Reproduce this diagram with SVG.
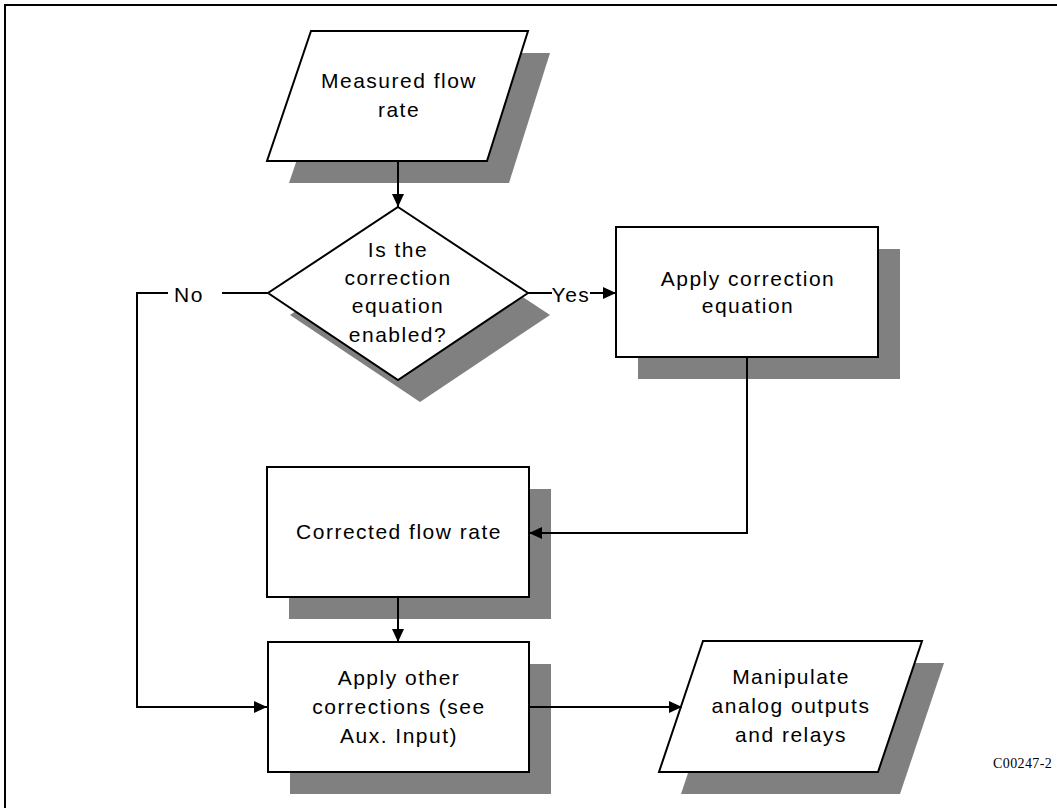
<svg xmlns="http://www.w3.org/2000/svg" width="1057" height="808" viewBox="0 0 1057 808">
  <style>
    .shadow { fill: #808080; stroke: none; }
    .shape { fill: #ffffff; stroke: #000000; stroke-width: 2; }
    .lbl { font-family: "Liberation Sans", Arial, sans-serif; font-size: 21px; letter-spacing: 1.5px; fill: #000000; text-anchor: middle; }
    .conn { fill: none; stroke: #000000; stroke-width: 2; }
    .code { font-family: "Liberation Serif", "Times New Roman", serif; font-size: 14px; letter-spacing: 0.4px; fill: #000000; }
  </style>
  <defs>
    <marker id="arrow" viewBox="0 0 13 12" refX="13" refY="6" markerWidth="13" markerHeight="12" markerUnits="userSpaceOnUse" orient="auto">
      <path d="M0,0 L13,6 L0,12 Z" fill="#000000"/>
    </marker>
  </defs>
  <rect width="1057" height="808" fill="#ffffff"/>
  <!-- frame -->
  <path d="M5,808 L5,5 L1057,5" fill="none" stroke="#000000" stroke-width="2"/>

  <g id="measured-flow-rate">
    <polygon class="shadow" points="333,53 550,53 509,183 289,183"/>
    <polygon class="shape" points="311,31 528,31 487,161 267,161"/>
    <text class="lbl" x="399" y="88">Measured flow</text>
    <text class="lbl" x="399" y="117">rate</text>
  </g>

  <g id="decision">
    <polygon class="shadow" points="420,229 550,315 420,402 290,315"/>
    <polygon class="shape" points="398,207 528,293 398,380 268,293"/>
    <text class="lbl" x="398" y="257">Is the</text>
    <text class="lbl" x="398" y="285">correction</text>
    <text class="lbl" x="398" y="313">equation</text>
    <text class="lbl" x="398" y="342">enabled?</text>
  </g>

  <g id="apply-correction">
    <rect class="shadow" x="638" y="249" width="262" height="130"/>
    <rect class="shape" x="616" y="227" width="262" height="130"/>
    <text class="lbl" x="748" y="286">Apply correction</text>
    <text class="lbl" x="748" y="313">equation</text>
  </g>

  <g id="corrected-flow-rate">
    <rect class="shadow" x="289" y="489" width="262" height="130"/>
    <rect class="shape" x="267" y="467" width="262" height="130"/>
    <text class="lbl" x="399" y="539">Corrected flow rate</text>
  </g>

  <g id="apply-other">
    <rect class="shadow" x="290" y="664" width="261" height="130"/>
    <rect class="shape" x="268" y="642" width="261" height="130"/>
    <text class="lbl" x="399" y="685">Apply other</text>
    <text class="lbl" x="399" y="714">corrections (see</text>
    <text class="lbl" x="399" y="743">Aux. Input)</text>
  </g>

  <g id="manipulate-outputs">
    <polygon class="shadow" points="725,663 944,663 900,794 681,794"/>
    <polygon class="shape" points="703,641 922,641 878,772 659,772"/>
    <text class="lbl" x="791" y="684">Manipulate</text>
    <text class="lbl" x="791" y="713">analog outputs</text>
    <text class="lbl" x="791" y="742">and relays</text>
  </g>

  <g id="connectors">
    <path class="conn" d="M398,161 L398,207" marker-end="url(#arrow)"/>
    <path class="conn" d="M268,293 L222,293"/>
    <path class="conn" d="M168,293 L137,293 L137,707 L267,707" marker-end="url(#arrow)"/>
    <path class="conn" d="M528,293 L552,293"/>
    <path class="conn" d="M590,293 L616,293" marker-end="url(#arrow)"/>
    <path class="conn" d="M747,357 L747,533 L529,533" marker-end="url(#arrow)"/>
    <path class="conn" d="M398,597 L398,642" marker-end="url(#arrow)"/>
    <path class="conn" d="M529,707 L682,707" marker-end="url(#arrow)"/>
    <text class="lbl" x="189" y="302">No</text>
    <text class="lbl" x="571" y="302">Yes</text>
  </g>

  <text class="code" x="993" y="768">C00247-2</text>
</svg>
